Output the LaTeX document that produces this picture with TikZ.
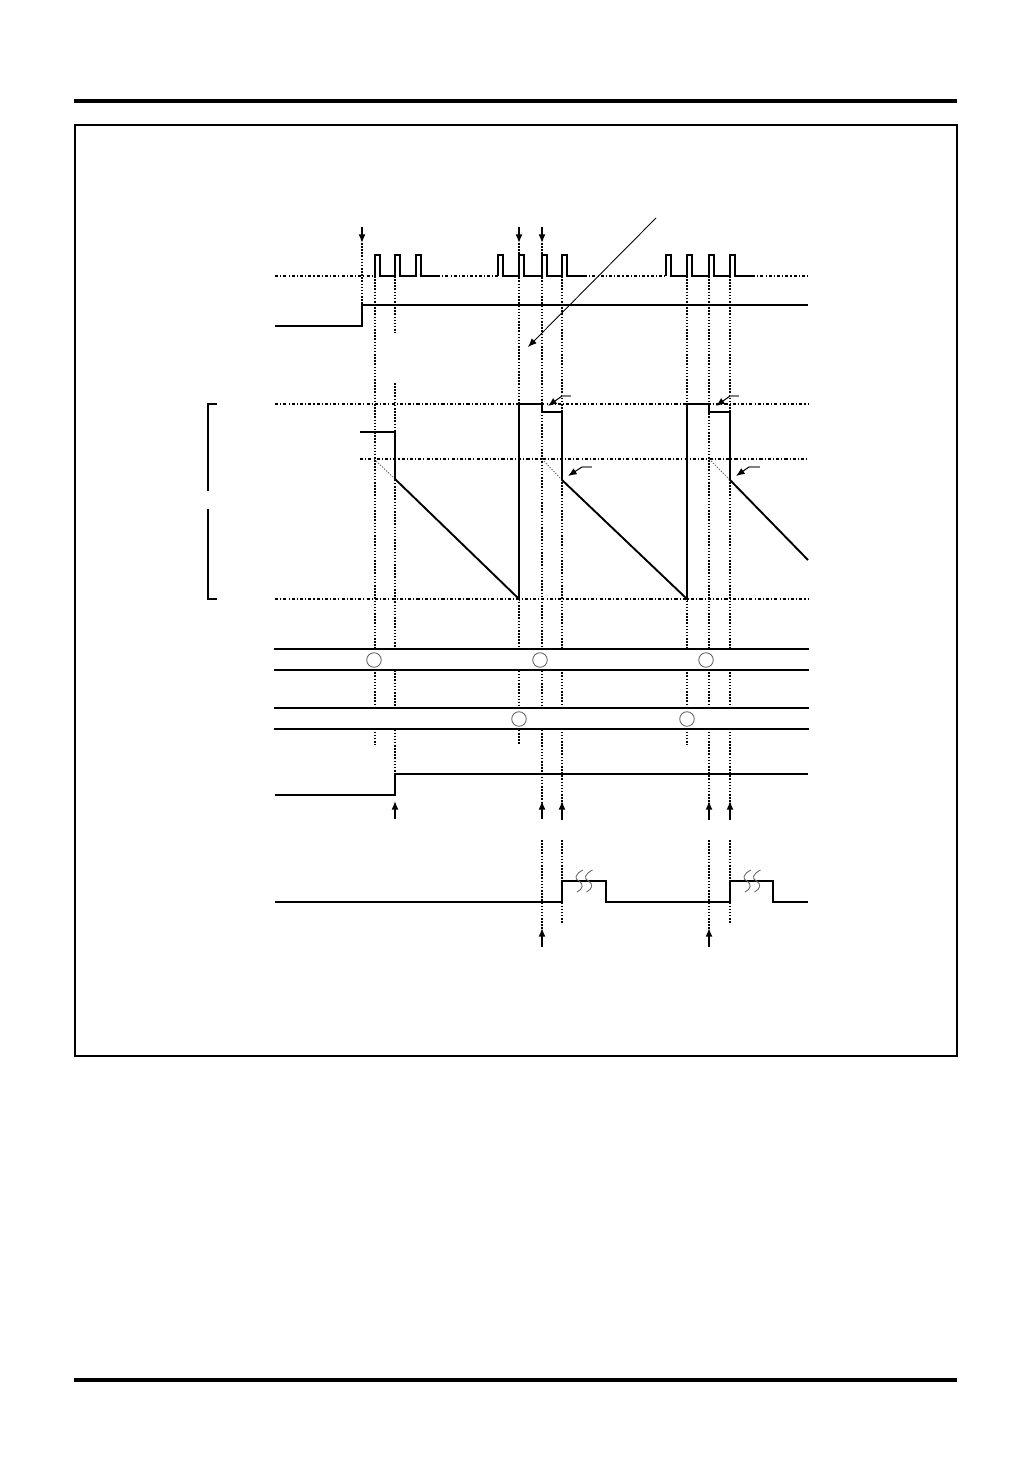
\documentclass[tikz,border=0pt]{standalone}
\usepackage{tikz}
\usetikzlibrary{arrows.meta}

\begin{document}
\begin{tikzpicture}[x=0.5768pt, y=-0.5768pt,
            sig/.style={line width=0.8pt},
            wave/.style={line width=1.1pt, line join=miter},
            guide/.style={line width=0.65pt, dash pattern=on 0.9pt off 0.9pt},
            refline/.style={line width=0.6pt, dash pattern=on 1.8pt off 1.2pt on 0.6pt off 1.2pt},
            tip/.style={line width=0.8pt, -{Latex[length=5pt,width=4pt]}},
            ring/.style={shape=circle, draw=black!60, line width=0.5pt, minimum size=8.4pt, inner sep=0pt}]
        \useasboundingbox (0,0) rectangle (1032,1458);

        % page rules and frame
        \draw[line width=1.9pt] (74,101) -- (957,101);
        \draw[line width=1.9pt] (74,1380) -- (957,1380);
        \draw[line width=0.8pt] (75,125) rectangle (957,1056);

        % guide lines
        \draw[guide] (362,243) -- (362,305);
        \draw[guide] (375,276) -- (375,745);
        \draw[guide] (395,276) -- (395,333);
        \draw[guide] (395,383) -- (395,774);
        \draw[guide] (519,243) -- (519,745);
        \draw[guide] (542,243) -- (542,820);
        \draw[guide] (542,840) -- (542,946);
        \draw[guide] (562,276) -- (562,820);
        \draw[guide] (562,840) -- (562,924);
        \draw[guide] (687,276) -- (687,745);
        \draw[guide] (709,276) -- (709,820);
        \draw[guide] (709,840) -- (709,946);
        \draw[guide] (730,276) -- (730,820);
        \draw[guide] (730,840) -- (730,924);

        % pulse train
        \draw[refline] (275,276) -- (375,276);
        \draw[refline] (437,276) -- (498,276);
        \draw[refline] (584,276) -- (666,276);
        \draw[refline] (752,276) -- (808,276);
        \draw[sig] (375,276) foreach \p in {375,395,416} { -- (\p,276) -- (\p,255) -- (\p+5,255) -- (\p+5,276) } -- (437,276);
        \draw[sig] (498,276) foreach \p in {498,519,542,562} { -- (\p,276) -- (\p,255) -- (\p+5,255) -- (\p+5,276) } -- (584,276);
        \draw[sig] (666,276) foreach \p in {666,687,709,730} { -- (\p,276) -- (\p,255) -- (\p+5,255) -- (\p+5,276) } -- (752,276);

        \draw[tip] (362,227) -- (362,243);
        \draw[tip] (519,227) -- (519,243);
        \draw[tip] (542,227) -- (542,243);

        \draw[sig] (275,326) -- (362,326) -- (362,305) -- (808,305);
        \draw[tip, line width=0.5pt] (656,218) -- (528,347);

        % analog level
        \draw[refline] (275,404) -- (808,404);
        \draw[refline] (360,459) -- (808,459);
        \draw[refline] (275,599) -- (808,599);
        \draw[sig] (217,404) -- (208,404) -- (208,491);
        \draw[sig] (208,509) -- (208,599) -- (217,599);

        \draw[black!60, line width=0.5pt, dash pattern=on 0.8pt off 0.8pt] (374,459) -- (395,479);
        \draw[black!60, line width=0.5pt, dash pattern=on 0.8pt off 0.8pt] (542,459) -- (562,480);
        \draw[black!60, line width=0.5pt, dash pattern=on 0.8pt off 0.8pt] (709,459) -- (730,480);
        \draw[wave] (360,432) -- (395,432) -- (395,479) -- (519,599) -- (519,404) -- (542,404) -- (542,412)
            -- (562,412) -- (562,480) -- (687,599) -- (687,404) -- (709,404) -- (709,412) -- (730,412)
            -- (730,480) -- (808,560);

        \draw[black!50, line width=0.6pt] (571,396) -- (562,396);
        \draw[tip, line width=0.6pt] (562,396) -- (548,406);
        \draw[black!50, line width=0.6pt] (592,467) -- (582,467);
        \draw[tip, line width=0.6pt] (582,467) -- (568,476);
        \draw[black!50, line width=0.6pt] (739,396) -- (730,396);
        \draw[tip, line width=0.6pt] (730,396) -- (716,406);
        \draw[black!50, line width=0.6pt] (760,467) -- (749,467);
        \draw[tip, line width=0.6pt] (749,467) -- (736,476);

        % bus bands
        \fill[white] (274,649) rectangle (809,670);
        \fill[white] (274,708) rectangle (809,729);
        \draw[sig] (274,649) -- (809,649);
        \draw[sig] (274,670) -- (809,670);
        \draw[sig] (274,708) -- (809,708);
        \draw[sig] (274,729) -- (809,729);
        \node[ring] (busA1) at (374,660) {};
        \node[ring] (busA2) at (540,660) {};
        \node[ring] (busA3) at (706,660) {};
        \node[ring] (busB1) at (519,719) {};
        \node[ring] (busB2) at (687,719) {};

        % lower signals
        \draw[sig] (275,795) -- (395,795) -- (395,774) -- (808,774);
        \draw[tip] (395,819) -- (395,801);
        \draw[tip] (542,819) -- (542,801);
        \draw[tip] (562,819) -- (562,801);
        \draw[tip] (709,819) -- (709,801);
        \draw[tip] (730,819) -- (730,801);

        \draw[sig] (275,902) -- (562,902) -- (562,881) -- (606,881) -- (606,902) -- (730,902)
            -- (730,881) -- (773,881) -- (773,902) -- (808,902);
        \foreach \dx in {0,9.5,168,177.5}
            \draw[black!60, line width=0.5pt] (583+\dx,870) .. controls (575+\dx,874) and (574+\dx,879) .. (579+\dx,881)
                .. controls (584+\dx,884) and (583+\dx,889) .. (577+\dx,892);
        \draw[tip] (542,947) -- (542,928);
        \draw[tip] (709,947) -- (709,928);
    \end{tikzpicture}
\end{document}
